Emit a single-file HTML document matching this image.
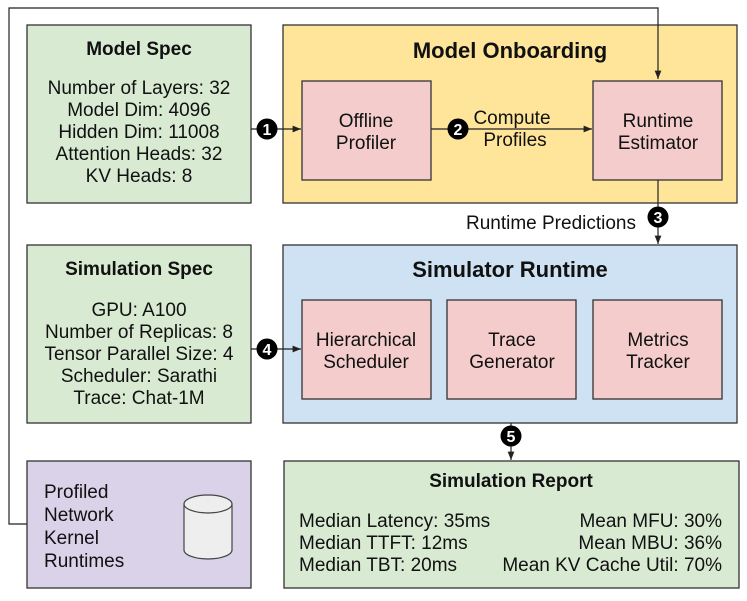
<!DOCTYPE html>
<html><head><style>
body{margin:0;background:#fff;}
svg text{font-family:"Liberation Sans",Arial,sans-serif;fill:#111;}
</style></head><body>
<svg width="747" height="596" viewBox="0 0 747 596" xmlns="http://www.w3.org/2000/svg">
<defs><marker id="a" viewBox="0 0 10 10" refX="10" refY="5" markerWidth="7" markerHeight="7" orient="auto"><path d="M0,1 L10,5 L0,9 z" fill="#222"/></marker></defs>
<g stroke="#333" stroke-width="1.3">
<rect x="27" y="25" width="224" height="178" fill="#d9ead3"/>
<rect x="283" y="25" width="454" height="178" fill="#ffe599"/>
<rect x="302" y="81" width="129" height="99" fill="#f4cccc"/>
<rect x="593" y="81" width="129" height="99" fill="#f4cccc"/>
<rect x="27" y="245" width="224" height="178" fill="#d9ead3"/>
<rect x="283" y="245" width="454" height="178" fill="#cfe2f3"/>
<rect x="302" y="300" width="129" height="99" fill="#f4cccc"/>
<rect x="447" y="300" width="129" height="99" fill="#f4cccc"/>
<rect x="593" y="300" width="129" height="99" fill="#f4cccc"/>
<rect x="27" y="461" width="224" height="127" fill="#d9d2e9"/>
<rect x="284" y="461" width="455" height="127" fill="#d9ead3"/>
</g>
<g stroke="#222" stroke-width="1.2" fill="none">
<polyline points="27,524 9,524 9,8 658,8 658,79" marker-end="url(#a)"/>
<line x1="251" y1="129" x2="301" y2="129" marker-end="url(#a)"/>
<line x1="431" y1="129" x2="592" y2="129" marker-end="url(#a)"/>
<line x1="658" y1="180" x2="658" y2="244" marker-end="url(#a)"/>
<line x1="251" y1="349" x2="301" y2="349" marker-end="url(#a)"/>
<line x1="511" y1="423" x2="511" y2="460" marker-end="url(#a)"/>
</g>
<g fill="#000">
<circle cx="267" cy="129" r="10.5"/><circle cx="458" cy="129" r="10.5"/><circle cx="658" cy="217" r="10.5"/><circle cx="267" cy="349" r="10.5"/><circle cx="511" cy="436" r="10.5"/>
</g>
<g font-size="16" font-weight="bold" text-anchor="middle">
<text x="267" y="135" style="fill:#fff">1</text><text x="458" y="135" style="fill:#fff">2</text><text x="658" y="223" style="fill:#fff">3</text><text x="267" y="355" style="fill:#fff">4</text><text x="511" y="442" style="fill:#fff">5</text>
</g>
<g stroke="#444" stroke-width="1.2" fill="#eee">
<path d="M184,504 L184,550 A24,9 0 0 0 232,550 L232,504"/>
<ellipse cx="208" cy="504" rx="24" ry="9"/>
</g>
<g text-anchor="middle" font-size="19">
<text x="139" y="55" font-weight="bold">Model Spec</text>
<text x="139" y="94">Number of Layers: 32</text>
<text x="139" y="116">Model Dim: 4096</text>
<text x="139" y="138">Hidden Dim: 11008</text>
<text x="139" y="160">Attention Heads: 32</text>
<text x="139" y="182">KV Heads: 8</text>
<text x="510" y="58" font-size="22" font-weight="bold">Model Onboarding</text>
<text x="366" y="127">Offline</text><text x="366" y="149">Profiler</text>
<text x="512" y="124">Compute</text><text x="515" y="146">Profiles</text>
<text x="658" y="127">Runtime</text><text x="658" y="149">Estimator</text>
<text x="551" y="229">Runtime Predictions</text>
<text x="139" y="275" font-weight="bold">Simulation Spec</text>
<text x="139" y="316">GPU: A100</text>
<text x="139" y="338">Number of Replicas: 8</text>
<text x="139" y="360">Tensor Parallel Size: 4</text>
<text x="139" y="382">Scheduler: Sarathi</text>
<text x="139" y="404">Trace: Chat-1M</text>
<text x="510" y="277" font-size="22" font-weight="bold">Simulator Runtime</text>
<text x="366" y="346">Hierarchical</text><text x="366" y="368">Scheduler</text>
<text x="512" y="346">Trace</text><text x="512" y="368">Generator</text>
<text x="658" y="346">Metrics</text><text x="658" y="368">Tracker</text>
<text x="511" y="487" font-weight="bold">Simulation Report</text>
</g>
<g font-size="19">
<text x="44" y="498">Profiled</text><text x="44" y="521">Network</text><text x="44" y="544">Kernel</text><text x="44" y="567">Runtimes</text>
<text x="299" y="527">Median Latency: 35ms</text>
<text x="299" y="549">Median TTFT: 12ms</text>
<text x="299" y="571">Median TBT: 20ms</text>
</g>
<g font-size="19" text-anchor="end">
<text x="722" y="527">Mean MFU: 30%</text>
<text x="722" y="549">Mean MBU: 36%</text>
<text x="722" y="571">Mean KV Cache Util: 70%</text>
</g>
</svg>
</body></html>
